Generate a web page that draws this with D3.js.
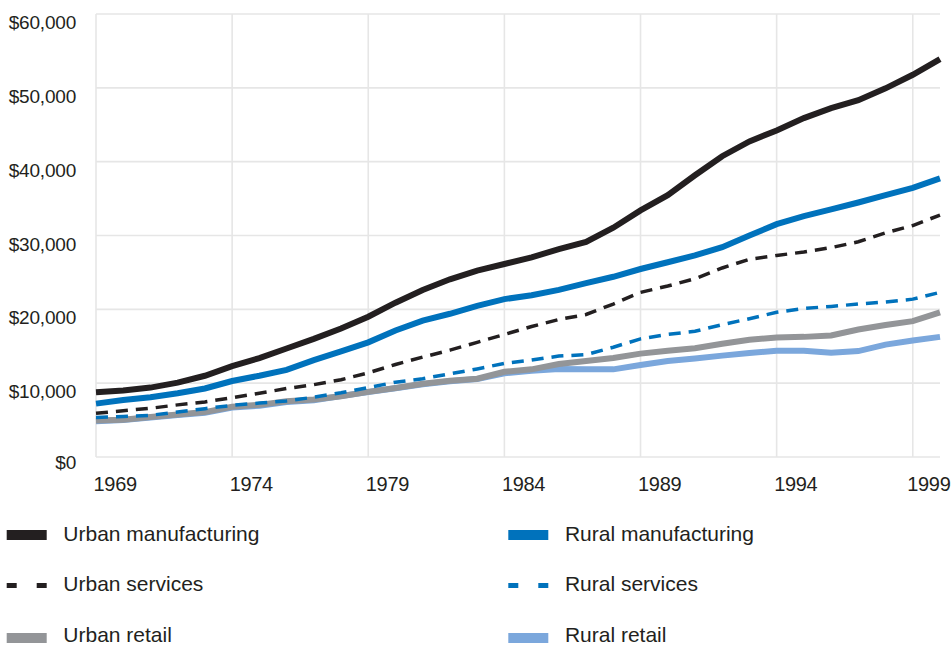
<!DOCTYPE html>
<html>
<head>
<meta charset="utf-8">
<script src="https://cdn.jsdelivr.net/npm/d3@7"></script>
<style>
  html, body { margin: 0; padding: 0; background: #ffffff; }
  svg { display: block; font-family: "Liberation Sans", Arial, Helvetica, sans-serif; }
</style>
</head>
<body>
<svg id="chart" width="951" height="646"></svg>
<script>
// ---- data ----
const years = [1969, 1970, 1971, 1972, 1973, 1974, 1975, 1976, 1977, 1978,
               1979, 1980, 1981, 1982, 1983, 1984, 1985, 1986, 1987, 1988,
               1989, 1990, 1991, 1992, 1993, 1994, 1995, 1996, 1997, 1998,
               1999, 2000];

const urbanManufacturing = [8760, 9000, 9400, 10070, 11000, 12300, 13400, 14700, 16000, 17400,
                            19000, 20900, 22620, 24070, 25250, 26140, 27040, 28160, 29140, 31060,
                            33400, 35460, 38160, 40740, 42750, 44230, 45900, 47250, 48320, 49930,
                            51770, 53900];
const ruralManufacturing = [7230, 7710, 8100, 8630, 9280, 10290, 11000, 11800, 13130, 14300,
                            15530, 17130, 18470, 19400, 20460, 21380, 21910, 22630, 23550, 24410,
                            25460, 26380, 27300, 28420, 30000, 31530, 32620, 33550, 34470, 35460,
                            36450, 37730];
const urbanServices = [5920, 6270, 6600, 7060, 7450, 8040, 8630, 9280, 9800, 10470,
                       11400, 12530, 13530, 14470, 15530, 16600, 17670, 18620, 19300, 20720,
                       22300, 23160, 24150, 25600, 26780, 27300, 27760, 28360, 29150, 30350,
                       31350, 32770];
const ruralServices = [5360, 5490, 5650, 6100, 6550, 7000, 7300, 7600, 8100, 8700,
                       9400, 10130, 10600, 11270, 11930, 12670, 13130, 13670, 13870, 14870,
                       16000, 16600, 17030, 17930, 18730, 19600, 20130, 20390, 20720, 20990,
                       21380, 22300];
const urbanRetail = [4930, 5060, 5420, 5750, 6080, 6800, 7060, 7540, 7780, 8240,
                     8820, 9350, 9930, 10330, 10600, 11550, 11870, 12600, 13000, 13400,
                     14000, 14400, 14730, 15330, 15870, 16200, 16270, 16470, 17270, 17870,
                     18400, 19600];
const ruralRetail = [4850, 5000, 5350, 5700, 6000, 6700, 6950, 7450, 7700, 8250,
                     8800, 9300, 9850, 10250, 10550, 11330, 11670, 11930, 11870, 11870,
                     12470, 13000, 13330, 13730, 14100, 14380, 14400, 14120, 14350, 15220,
                     15790, 16270];

const seriesNames = ["Urban manufacturing", "Urban services", "Urban retail",
                     "Rural manufacturing", "Rural services", "Rural retail"];

const yTickValues = [0, 10000, 20000, 30000, 40000, 50000, 60000];
const xTickValues = [1969, 1974, 1979, 1984, 1989, 1994, 1999];

// ---- styles (kept separate from data) ----
const styles = {
  "Urban manufacturing": { color: "#231f20", width: 6, dash: null },
  "Rural manufacturing": { color: "#0072bc", width: 6, dash: null },
  "Urban services":      { color: "#231f20", width: 3.5, dash: "12,8" },
  "Rural services":      { color: "#0072bc", width: 3.5, dash: "12,8" },
  "Urban retail":        { color: "#939598", width: 6, dash: null },
  "Rural retail":        { color: "#7ba7dc", width: 6, dash: null }
};

const valuesByName = {
  "Urban manufacturing": urbanManufacturing,
  "Rural manufacturing": ruralManufacturing,
  "Urban services": urbanServices,
  "Rural services": ruralServices,
  "Urban retail": urbanRetail,
  "Rural retail": ruralRetail
};

// ---- layout ----
const svg = d3.select("#chart");
const W = 951;
const plot = { left: 96, right: 940, top: 14, bottom: 457 };

const x = d3.scaleLinear().domain([1969, 2000]).range([plot.left, plot.right]);
const y = d3.scaleLinear().domain([0, 60000]).range([plot.bottom, plot.top]);

const textColor = "#231f20";
const gridColor = "#e6e6e6";

// horizontal gridlines
svg.append("g")
  .selectAll("line")
  .data(yTickValues)
  .join("line")
  .attr("x1", plot.left).attr("x2", plot.right)
  .attr("y1", d => y(d)).attr("y2", d => y(d))
  .attr("stroke", gridColor).attr("stroke-width", 1.6);

// vertical gridlines
svg.append("g")
  .selectAll("line")
  .data(xTickValues)
  .join("line")
  .attr("x1", d => x(d)).attr("x2", d => x(d))
  .attr("y1", plot.top).attr("y2", plot.bottom)
  .attr("stroke", gridColor).attr("stroke-width", 1.6);

// y axis labels
const yAxis = d3.axisLeft(y)
  .tickValues(yTickValues)
  .tickSize(0)
  .tickPadding(0)
  .tickFormat(d => "$" + d3.format(",")(d));
const yg = svg.append("g").attr("transform", "translate(76,0)").call(yAxis);
yg.select(".domain").remove();
yg.selectAll("text")
  .attr("fill", textColor)
  .attr("font-size", "19px")
  .attr("font-family", "'Liberation Sans', Arial, Helvetica, sans-serif")
  .attr("letter-spacing", "-0.2px")
  .attr("dy", null)
  .attr("y", d => d === 0 ? 11 : 14.5);

// x axis labels
const xAxis = d3.axisBottom(x)
  .tickValues(xTickValues)
  .tickSize(0)
  .tickPadding(0)
  .tickFormat(d => String(d));
const xg = svg.append("g").attr("transform", "translate(0," + plot.bottom + ")").call(xAxis);
xg.select(".domain").remove();
xg.selectAll("text")
  .attr("fill", textColor)
  .attr("font-size", "20px")
  .attr("font-family", "'Liberation Sans', Arial, Helvetica, sans-serif")
  .attr("letter-spacing", "-0.3px")
  .attr("text-anchor", "start")
  .attr("x", -3)
  .attr("dy", null)
  .attr("y", 34);
// keep the last label inside the picture
xg.selectAll(".tick").each(function(d) {
  const t = d3.select(this).select("text");
  const w = t.node().getComputedTextLength();
  const left = x(d) - 3;
  if (left + w > W - 1) t.attr("x", (W - 1 - w) - x(d));
});

// lines
const line = d3.line()
  .x((d, i) => x(years[i]))
  .y(d => y(d));

const drawOrder = ["Rural retail", "Urban retail", "Rural services", "Urban services",
                   "Rural manufacturing", "Urban manufacturing"];
svg.append("g")
  .selectAll("path")
  .data(drawOrder)
  .join("path")
  .attr("d", name => line(valuesByName[name]))
  .attr("fill", "none")
  .attr("stroke", name => styles[name].color)
  .attr("stroke-width", name => styles[name].width)
  .attr("stroke-dasharray", name => styles[name].dash)
  .attr("stroke-linejoin", "miter")
  .attr("stroke-linecap", "butt");

// legend
const legendCols = [6.7, 508.3];
const legendBaselines = [541, 591, 642];
const legend = svg.append("g");
seriesNames.forEach((name, i) => {
  const col = Math.floor(i / 3), row = i % 3;
  const lx = legendCols[col];
  const by = legendBaselines[row];
  const st = styles[name];
  const g = legend.append("g");
  if (st.dash) {
    g.append("line")
      .attr("x1", lx).attr("x2", lx + 40)
      .attr("y1", by - 5.5).attr("y2", by - 5.5)
      .attr("stroke", st.color).attr("stroke-width", 5)
      .attr("stroke-dasharray", "10,20");
  } else {
    g.append("rect")
      .attr("x", lx).attr("y", by - 11 + (row === 2 ? 2 : 0))
      .attr("width", 40).attr("height", 10)
      .attr("fill", st.color);
  }
  g.append("text")
    .attr("x", lx + 56.6).attr("y", by)
    .attr("fill", textColor)
    .attr("font-size", "21px")
    .text(name);
});
</script>
</body>
</html>
